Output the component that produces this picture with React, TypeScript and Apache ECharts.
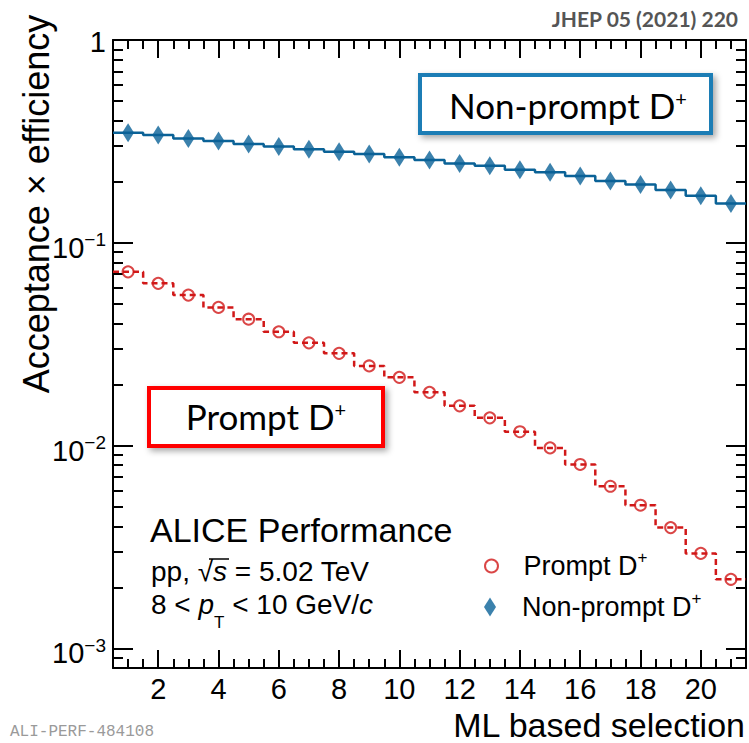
import React, { useEffect, useRef } from "react";
import * as echarts from "echarts";

// ---- data ----
const selectionBins = [1, 2, 3, 4, 5, 6, 7, 8, 9, 10, 11, 12, 13, 14, 15, 16, 17, 18, 19, 20, 21];
const promptAccEff = [
  0.0719, 0.0631, 0.0552, 0.048, 0.042, 0.0364, 0.0321, 0.0285, 0.0247, 0.0217, 0.0183,
  0.0157, 0.0137, 0.0117, 0.00974, 0.00807, 0.0063, 0.00508, 0.00394, 0.00294, 0.00219,
];
const nonPromptAccEff = [
  0.349, 0.34, 0.327, 0.318, 0.307, 0.298, 0.289, 0.281, 0.274, 0.264, 0.256, 0.246, 0.24,
  0.229, 0.2225, 0.2134, 0.2016, 0.1941, 0.182, 0.1706, 0.1564,
];
const xMajorTicks = [2, 4, 6, 8, 10, 12, 14, 16, 18, 20];
const xMinorTicks = [
  1, 1.5, 2.5, 3, 3.5, 4.5, 5, 5.5, 6.5, 7, 7.5, 8.5, 9, 9.5, 10.5, 11, 11.5, 12.5, 13, 13.5,
  14.5, 15, 15.5, 16.5, 17, 17.5, 18.5, 19, 19.5, 20.5, 21,
];
const yMajorTicks = [0.001, 0.01, 0.1, 1];
const yMinorTicks = [
  0.0009, 0.002, 0.003, 0.004, 0.005, 0.006, 0.007, 0.008, 0.009, 0.02, 0.03, 0.04, 0.05, 0.06,
  0.07, 0.08, 0.09, 0.2, 0.3, 0.4, 0.5, 0.6, 0.7, 0.8, 0.9,
];
const X_MIN = 0.5;
const X_MAX = 21.5;
const Y_MIN = 0.0008;
const Y_MAX = 1;

const BLUE = "#0a6297";
const RED = "#d11818";
const HELV = "'Liberation Sans', Arial, Helvetica, sans-serif";
const LATO = "Lato, 'Open Sans', sans-serif";

function stepData(values: number[]) {
  const pts: number[][] = [];
  selectionBins.forEach((c, i) => {
    pts.push([c - 0.5, values[i]]);
    pts.push([c + 0.5, values[i]]);
  });
  return pts;
}

export default function App() {
  const ref = useRef<HTMLDivElement>(null);
  useEffect(() => {
    if (!ref.current) return;
    const chart = echarts.init(ref.current, undefined, { renderer: "svg" });
    const frame = { color: "#000", width: 2 };
    const xBase = { type: "value", min: X_MIN, max: X_MAX, splitLine: { show: false } };
    const yBase = {
      type: "log",
      logBase: 10,
      min: Y_MIN,
      max: Y_MAX,
      splitLine: { show: false },
    };
    const yLabelRich = {
      b: { fontSize: 29, fontFamily: HELV, color: "#000", lineHeight: 39, verticalAlign: "bottom" },
      s: { fontSize: 19, fontFamily: HELV, color: "#000", verticalAlign: "top", padding: [7, 0, 0, 0] },
      one: { fontSize: 29, fontFamily: HELV, color: "#000", lineHeight: 33, verticalAlign: "bottom" },
    };
    const legendRich = {
      n: { fontSize: 27, fontFamily: HELV, color: "#000", lineHeight: 34 },
      s: { fontSize: 17, fontFamily: HELV, color: "#000", verticalAlign: "top" },
    };
    const boxRich = {
      n: { fontSize: 35, fontFamily: LATO, color: "#474747", lineHeight: 34 },
      s: { fontSize: 20, fontFamily: LATO, color: "#474747", verticalAlign: "top" },
    };

    const option: any = {
      animation: false,
      backgroundColor: "#fff",
      grid: {
        left: 113,
        right: 3,
        top: 40,
        bottom: 75,
        containLabel: false,
        outerBoundsMode: "none",
      },
      xAxis: [
        {
          ...xBase,
          position: "bottom",
          axisLine: { show: true, onZero: false, lineStyle: frame },
          axisTick: { show: true, inside: true, length: 18, customValues: xMajorTicks, lineStyle: frame },
          axisLabel: {
            show: true,
            customValues: xMajorTicks,
            fontSize: 29,
            fontFamily: HELV,
            color: "#000",
            margin: 6,
          },
        },
        {
          ...xBase,
          position: "bottom",
          axisLine: { show: false },
          axisTick: { show: true, inside: true, length: 9, customValues: xMinorTicks, lineStyle: frame },
          axisLabel: { show: false },
        },
        {
          ...xBase,
          position: "top",
          axisLine: { show: true, onZero: false, lineStyle: frame },
          axisTick: { show: true, inside: true, length: 18, customValues: xMajorTicks, lineStyle: frame },
          axisLabel: { show: false },
        },
        {
          ...xBase,
          position: "top",
          axisLine: { show: false },
          axisTick: { show: true, inside: true, length: 9, customValues: xMinorTicks, lineStyle: frame },
          axisLabel: { show: false },
        },
      ],
      yAxis: [
        {
          ...yBase,
          position: "left",
          axisLine: { show: true, onZero: false, lineStyle: frame },
          axisTick: { show: true, inside: true, length: 20, customValues: yMajorTicks, lineStyle: frame },
          axisLabel: {
            show: true,
            customValues: yMajorTicks,
            margin: 7,
            rich: yLabelRich,
            formatter: (v: number) => {
              const e = Math.round(Math.log10(v));
              if (e === 0) return "{one|1}";
              return "{b|10}{s|" + (e < 0 ? "\u2212" : "") + Math.abs(e) + "}";
            },
          },
        },
        {
          ...yBase,
          position: "left",
          axisLine: { show: false },
          axisTick: { show: true, inside: true, length: 10, customValues: yMinorTicks, lineStyle: frame },
          axisLabel: { show: false },
        },
        {
          ...yBase,
          position: "right",
          axisLine: { show: true, onZero: false, lineStyle: frame },
          axisTick: { show: true, inside: true, length: 20, customValues: yMajorTicks, lineStyle: frame },
          axisLabel: { show: false },
        },
        {
          ...yBase,
          position: "right",
          axisLine: { show: false },
          axisTick: { show: true, inside: true, length: 10, customValues: yMinorTicks, lineStyle: frame },
          axisLabel: { show: false },
        },
      ],
      legend: [
        {
          data: [{ name: "Prompt D+", icon: "circle" }],
          orient: "vertical",
          left: 484,
          top: 549,
          padding: 0,
          itemWidth: 54,
          itemHeight: 13,
          selectedMode: false,
          formatter: () => "{n|Prompt D}{s|+}",
          textStyle: { color: "#000", rich: legendRich },
        },
        {
          data: [{ name: "Non-prompt D+", icon: "path://M6,0L12,9.5L6,19L0,9.5Z" }],
          orient: "vertical",
          left: 484,
          top: 590,
          padding: 0,
          itemWidth: 54,
          itemHeight: 19,
          selectedMode: false,
          formatter: () => "{n|Non-prompt D}{s|+}",
          textStyle: { color: "#000", rich: legendRich },
        },
      ],
      series: [
        {
          name: "Non-prompt step",
          type: "line",
          data: stepData(nonPromptAccEff),
          symbol: "none",
          silent: true,
          lineStyle: { color: BLUE, width: 2.5 },
          itemStyle: { color: BLUE },
          z: 2,
        },
        {
          name: "Non-prompt D+",
          type: "scatter",
          data: selectionBins.map((x, i) => [x, nonPromptAccEff[i]]),
          symbol: "diamond",
          symbolSize: [12, 19],
          itemStyle: { color: BLUE },
          z: 3,
        },
        {
          name: "Prompt step",
          type: "line",
          data: stepData(promptAccEff),
          symbol: "none",
          silent: true,
          lineStyle: { color: RED, width: 2.5, type: [6, 4] },
          itemStyle: { color: RED },
          z: 2,
        },
        {
          name: "Prompt D+",
          type: "scatter",
          data: selectionBins.map((x, i) => [x, promptAccEff[i]]),
          symbol: "circle",
          symbolSize: 11,
          itemStyle: { color: "rgba(0,0,0,0)", borderColor: RED, borderWidth: 2 },
          z: 3,
        },
      ],
      graphic: [
        {
          type: "text",
          x: 738,
          y: 18,
          style: {
            text: "JHEP 05 (2021) 220",
            align: "right",
            verticalAlign: "middle",
            fontFamily: LATO,
            fontWeight: "bold",
            fontSize: 21,
            fill: "#555",
          },
        },
        {
          type: "text",
          x: 36.5,
          y: 204,
          rotation: Math.PI / 2,
          style: {
            text: "Acceptance \u00d7 efficiency",
            align: "center",
            verticalAlign: "middle",
            fontFamily: HELV,
            fontSize: 36,
            fill: "#000",
          },
        },
        {
          type: "text",
          x: 745,
          y: 725,
          style: {
            text: "ML based selection",
            align: "right",
            verticalAlign: "middle",
            fontFamily: HELV,
            fontSize: 34,
            fill: "#000",
          },
        },
        {
          type: "text",
          x: 150,
          y: 530,
          style: {
            text: "ALICE Performance",
            align: "left",
            verticalAlign: "middle",
            fontFamily: HELV,
            fontSize: 34,
            fill: "#000",
          },
        },
        {
          type: "text",
          x: 151,
          y: 571,
          style: {
            text: "{n|pp, \u221a}{i|s}{n| = 5.02 TeV}",
            align: "left",
            verticalAlign: "middle",
            rich: {
              n: { fontSize: 28, fontFamily: HELV, color: "#000" },
              i: { fontSize: 28, fontFamily: HELV, fontStyle: "italic", color: "#000" },
            },
          },
        },
        {
          type: "line",
          shape: { x1: 209, y1: 559, x2: 229, y2: 559 },
          style: { stroke: "#000", lineWidth: 1.5 },
        },
        {
          type: "text",
          x: 151,
          y: 610.5,
          style: {
            text: "{n|8 < }{i|p}{t|T}{n| < 10 GeV/}{i|c}",
            align: "left",
            verticalAlign: "middle",
            rich: {
              n: { fontSize: 28, fontFamily: HELV, color: "#000", lineHeight: 32, verticalAlign: "top" },
              i: { fontSize: 28, fontFamily: HELV, fontStyle: "italic", color: "#000", lineHeight: 32, verticalAlign: "top" },
              t: { fontSize: 17, fontFamily: HELV, color: "#000", lineHeight: 40, verticalAlign: "bottom" },
            },
          },
        },
        {
          type: "group",
          children: [
            {
              type: "rect",
              shape: { x: 420, y: 75, width: 291, height: 58 },
              style: {
                fill: "#fff",
                stroke: "#1b7db5",
                lineWidth: 4,
                shadowBlur: 6,
                shadowOffsetX: 3,
                shadowOffsetY: 3,
                shadowColor: "rgba(0,0,0,0.35)",
              },
            },
            {
              type: "text",
              x: 568,
              y: 105,
              style: {
                text: "{n|Non-prompt D}{s|+}",
                align: "center",
                verticalAlign: "middle",
                rich: boxRich,
              },
            },
          ],
        },
        {
          type: "group",
          children: [
            {
              type: "rect",
              shape: { x: 149, y: 388, width: 234, height: 58 },
              style: {
                fill: "#fff",
                stroke: "#ff0000",
                lineWidth: 4,
                shadowBlur: 6,
                shadowOffsetX: 3,
                shadowOffsetY: 3,
                shadowColor: "rgba(0,0,0,0.35)",
              },
            },
            {
              type: "text",
              x: 266,
              y: 416,
              style: {
                text: "{n|Prompt D}{s|+}",
                align: "center",
                verticalAlign: "middle",
                rich: boxRich,
              },
            },
          ],
        },
        {
          type: "text",
          x: 10,
          y: 724,
          style: {
            text: "ALI-PERF-484108",
            align: "left",
            verticalAlign: "top",
            fontFamily: "'Liberation Mono', 'DejaVu Sans Mono', monospace",
            fontSize: 16,
            fill: "#9a9a9a",
          },
        },
      ],
    };
    chart.setOption(option);
    return () => chart.dispose();
  }, []);
  return (
    <div
      ref={ref}
      style={{ position: "absolute", left: 0, top: 0, width: 749, height: 743, background: "#fff" }}
    />
  );
}
